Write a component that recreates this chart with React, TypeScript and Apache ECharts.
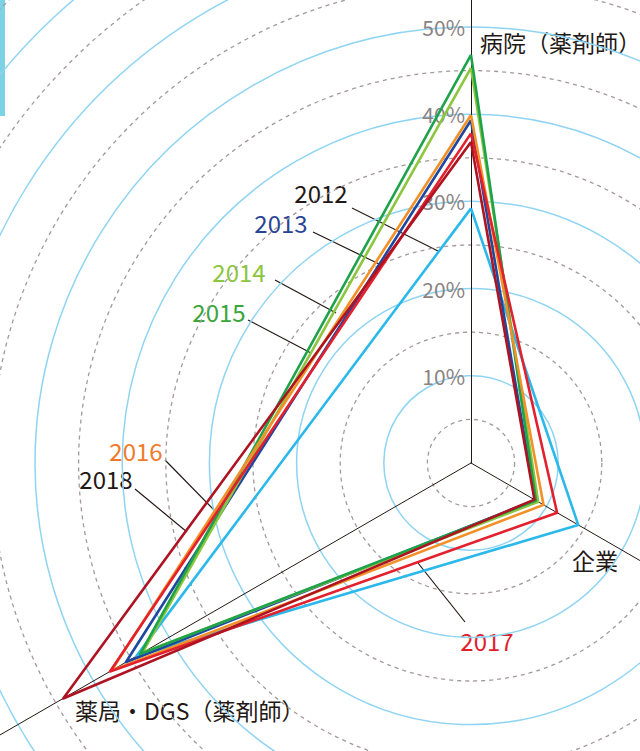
import React, { useEffect, useRef } from 'react';
import * as echarts from 'echarts';

// ---- data ----
const axisNames = ['病院（薬剤師）', '薬局・DGS（薬剤師）', '企業'];
const years = ['2012', '2013', '2014', '2015', '2016', '2017', '2018'];
const hospital = [29.2, 39.3, 45.3, 46.8, 39.9, 37.8, 36.8];
const pharmacy = [44.3, 45.7, 43.5, 43.8, 47.6, 47.8, 54.0];
const company = [14.2, 8.5, 8.9, 8.6, 9.6, 11.4, 8.4];
const axisMin = 0;
const axisMax = 80;
const lastTickLabel = 50;

// ---- styles ----
const lineColors = ['#2bb8ea', '#1f47a0', '#8cc63e', '#1ea24a', '#f39028', '#e3202d', '#ad1320'];
const labelColors = ['#231815', '#2b4596', '#8cc63e', '#3aa63a', '#f07a2a', '#e0202a', '#231815'];
const FONT = '"Noto Sans CJK JP", "Noto Sans", sans-serif';
const CX = 471;
const CY = 463;
const R = 697.6;

// annotation placement (text centre, leader start, leader end)
const yearLabelPos: Record<string, number[]> = {
  '2012': [321, 192, 352, 208, 438, 251],
  '2013': [281, 222, 313, 232, 379, 264],
  '2014': [239, 271, 275, 280, 336, 313],
  '2015': [219, 311, 248, 320, 311, 353],
  '2016': [136, 450, 165, 460, 215, 511],
  '2017': [487, 640, 465, 622, 418, 563],
  '2018': [106, 478, 135, 489, 187, 532],
};
const axisNamePos = [
  [480, 42],
  [75, 710],
  [572, 560],
];

export default function App() {
  const ref = useRef<HTMLDivElement>(null);
  useEffect(() => {
    if (!ref.current) return;
    const chart = echarts.init(ref.current, undefined, { renderer: 'svg' });

    const indicators = axisNames.map((n, i) => ({
      name: n,
      min: axisMin,
      max: axisMax,
      axisLabel:
        i === 0
          ? {
              show: true,
              formatter: (v: number) => (v > 0 && v <= lastTickLabel ? v + '%' : ''),
              color: '#8c8282',
              fontSize: 21,
              fontFamily: FONT,
              showMinLabel: false,
              margin: 6,
            }
          : { show: false },
    }));

    const graphics: any[] = [
      { type: 'rect', shape: { x: 0, y: 0, width: 5, height: 116 }, style: { fill: '#7dd3e3' } },
    ];
    axisNames.forEach((n, i) => {
      graphics.push({
        type: 'text',
        x: axisNamePos[i][0],
        y: axisNamePos[i][1],
        style: { text: n, fill: '#231815', fontSize: 23, fontFamily: FONT, align: 'left', verticalAlign: 'middle' },
      });
    });
    years.forEach((y, i) => {
      const p = yearLabelPos[y];
      graphics.push({
        type: 'line',
        shape: { x1: p[2], y1: p[3], x2: p[4], y2: p[5] },
        style: { stroke: '#231815', lineWidth: 1.2 },
      });
      graphics.push({
        type: 'text',
        x: p[0],
        y: p[1],
        style: { text: y, fill: labelColors[i], fontSize: 24, fontFamily: FONT, align: 'center', verticalAlign: 'middle' },
      });
    });

    chart.setOption({
      animation: false,
      backgroundColor: '#ffffff',
      radar: [
        {
          center: [CX, CY],
          radius: R,
          startAngle: 90,
          shape: 'circle',
          splitNumber: 16,
          indicator: axisNames.map((n) => ({ name: n, min: axisMin, max: axisMax })),
          axisName: { show: false },
          splitArea: { show: false },
          axisLine: { show: false },
          axisTick: { show: false },
          axisLabel: { show: false },
          splitLine: { lineStyle: { color: ['rgba(0,0,0,0)', '#a39999'], width: 1.3, type: [4, 4] } },
        },
        {
          center: [CX, CY],
          radius: R,
          startAngle: 90,
          shape: 'circle',
          splitNumber: 8,
          indicator: indicators,
          axisName: { show: false },
          splitArea: { show: false },
          axisLine: { show: true, lineStyle: { color: '#231815', width: 1 } },
          axisTick: { show: false },
          axisLabel: { show: false },
          splitLine: { lineStyle: { color: '#8fd4f2', width: 1.5 } },
        },
      ],
      series: years.map((y, i) => ({
        type: 'radar',
        radarIndex: 1,
        name: y,
        symbol: 'none',
        lineStyle: { color: lineColors[i], width: 2.6 },
        itemStyle: { color: lineColors[i] },
        data: [{ name: y, value: [hospital[i], pharmacy[i], company[i]] }],
      })),
      graphic: graphics,
    });
    return () => chart.dispose();
  }, []);
  return <div ref={ref} style={{ position: 'absolute', left: 0, top: 0, width: 640, height: 751 }} />;
}
